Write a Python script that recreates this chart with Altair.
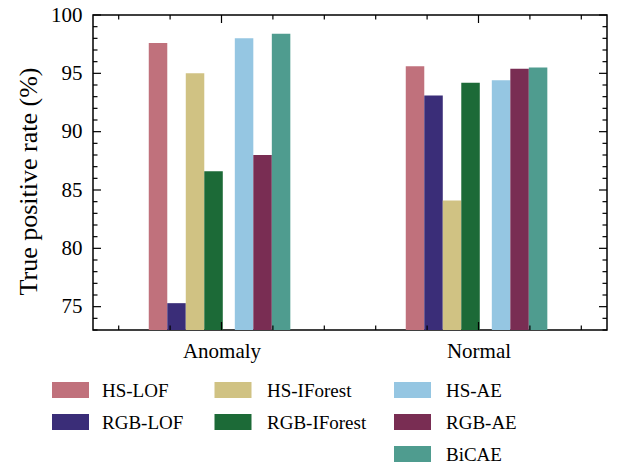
import altair as alt
import pandas as pd
import numpy as np

# ---------------- data ----------------
categories = ["Anomaly", "Normal"]
series = ["HS-LOF", "RGB-LOF", "HS-IForest", "RGB-IForest", "HS-AE", "RGB-AE", "BiCAE"]
anomaly_values = [97.6, 75.3, 95.0, 86.6, 98.0, 88.0, 98.4]
normal_values = [95.6, 93.1, 84.1, 94.2, 94.4, 95.4, 95.5]
colors = ["#C0717C", "#3A2D78", "#D0C283", "#1C6A37", "#95C6E2", "#792D53", "#4F9C8F"]
legend_columns = [["HS-LOF", "RGB-LOF"], ["HS-IForest", "RGB-IForest"], ["HS-AE", "RGB-AE", "BiCAE"]]
y_tick_labels = [75, 80, 85, 90, 95, 100]

# ---------------- layout ----------------
W, H = 514, 315
FONT = "Liberation Serif"
bar_w = 0.072
bar_slots = [0, 1, 2, 3, 4.65, 5.65, 6.65]
first_off = -0.247
MAJ, MIN = 8, 4.5
TW = 1.2

rows = []
for ci, (cat, vals) in enumerate(zip(categories, [anomaly_values, normal_values])):
    for s, v, slot in zip(series, vals, bar_slots):
        c = ci + first_off + bar_w * slot
        rows.append({"category": cat, "series": s, "value": v,
                     "x0": c - bar_w / 2, "x1": c + bar_w / 2})
df = pd.DataFrame(rows)

leg_rows = []
for col, items in enumerate(legend_columns):
    for r, s in enumerate(items):
        leg_rows.append({"series": s, "col": col, "row": r})
leg = pd.DataFrame(leg_rows)

xs = alt.Scale(domain=[-0.5, 1.5], range=[0, W], nice=False, zero=False)
ys = alt.Scale(domain=[73, 100], range=[H, 0], nice=False, zero=False)
cs = alt.Scale(domain=series, range=colors)

label_expr = " : ".join(
    [f"datum.value == {i} ? '{c}'" for i, c in enumerate(categories[:-1])] + [f"'{categories[-1]}'"]
)

bars = alt.Chart(df).mark_rect().encode(
    x=alt.X("x0:Q", scale=xs, axis=alt.Axis(
        values=[0, 1], labelExpr=label_expr, ticks=False, domain=False, grid=False,
        labelFont=FONT, labelFontSize=21, labelColor="black", labelPadding=10, title=None,
        labelFlush=False)),
    x2="x1:Q",
    y=alt.Y("value:Q", scale=ys, axis=alt.Axis(
        values=y_tick_labels, ticks=False, domain=False, grid=False,
        labelFont=FONT, labelFontSize=21, labelColor="black", labelPadding=11,
        title="True positive rate (%)", titleFont=FONT, titleFontSize=26,
        titleFontWeight="normal", titleColor="black", titleX=-65, titleY=166,
        titleAlign="center", titleBaseline="middle", titleAngle=270, labelFlush=False)),
    y2=alt.value(H),
    color=alt.Color("series:N", scale=cs, legend=None),
)

y_major = y_tick_labels
y_minor = [v for v in range(73, 101) if v not in y_major]
x_major = [0, 1]
x_minor = [-0.4, -0.2, 0.2, 0.4, 0.6, 0.8, 1.2, 1.4]


def yrule(vals, a, b):
    return alt.Chart(pd.DataFrame({"v": vals})).mark_rule(color="black", strokeWidth=TW).encode(
        y=alt.Y("v:Q", scale=ys, axis=None), x=alt.value(a), x2=alt.value(b))


def xrule(vals, a, b):
    return alt.Chart(pd.DataFrame({"v": vals})).mark_rule(color="black", strokeWidth=TW).encode(
        x=alt.X("v:Q", scale=xs, axis=None), y=alt.value(a), y2=alt.value(b))


ticks = [
    yrule(y_major, 0, MAJ), yrule(y_minor, 0, MIN),
    yrule(y_major, W - MAJ, W), yrule(y_minor, W - MIN, W),
    xrule(x_major, 0, MAJ), xrule(x_minor, 0, MIN),
    xrule(x_major, H - MAJ, H), xrule(x_minor, H - MIN, H),
]

swatches = alt.Chart(leg).mark_rect(width=37, height=16).encode(
    x=alt.X("col:Q", scale=alt.Scale(domain=[0, 1, 2], range=[-22.5, 140, 319.5], nice=False, zero=False), axis=None),
    y=alt.Y("row:Q", scale=alt.Scale(domain=[0, 1, 2], range=[375, 407, 439], nice=False, zero=False), axis=None),
    color=alt.Color("series:N", scale=cs, legend=None),
)
texts = alt.Chart(leg).mark_text(align="left", baseline="middle", font=FONT, fontSize=19, color="black").encode(
    x=alt.X("col:Q", scale=alt.Scale(domain=[0, 1, 2], range=[9, 174, 353], nice=False, zero=False), axis=None),
    y=alt.Y("row:Q", scale=alt.Scale(domain=[0, 1, 2], range=[376, 408, 440], nice=False, zero=False), axis=None),
    text="series:N",
)

chart = alt.layer(bars, *ticks, swatches, texts).resolve_scale(
    x="independent", y="independent"
).properties(
    width=W, height=H,
    autosize=alt.AutoSizeParams(type="none"),
    padding={"left": 93, "top": 15, "right": 35, "bottom": 138},
    background="white",
).configure_view(stroke="black", strokeWidth=1.5)

chart.save("out.html", embed_options={"renderer": "svg", "actions": False})
